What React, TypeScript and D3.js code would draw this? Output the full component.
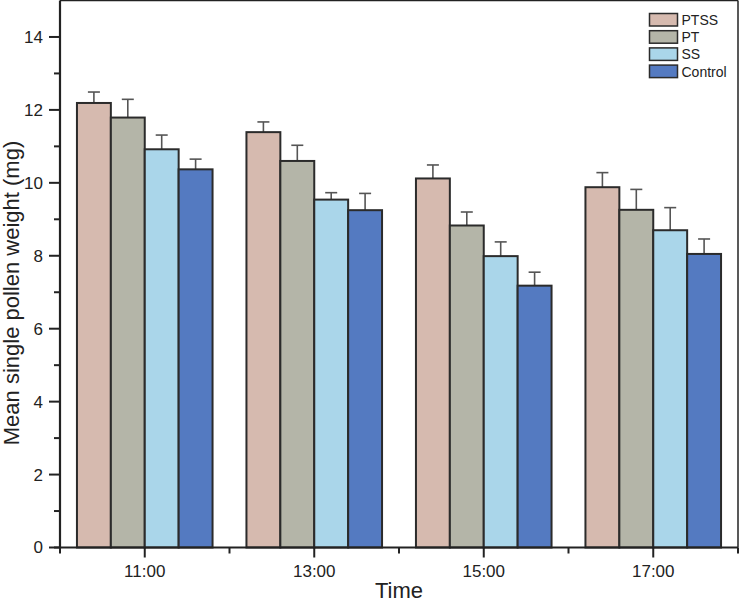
import React from "react";
import * as d3 from "d3";

const hours = [11, 13, 15, 17];
const hourLabels = ["11:00", "13:00", "15:00", "17:00"];
const seriesNames = ["PTSS", "PT", "SS", "Control"];
const seriesColors = ["#d6baaf", "#b4b5a8", "#aad6ea", "#547ac1"];
const ptssMean = [12.19, 11.39, 10.12, 9.88];
const ptssErr = [0.3, 0.28, 0.37, 0.4];
const ptMean = [11.79, 10.6, 8.83, 9.26];
const ptErr = [0.5, 0.43, 0.37, 0.56];
const ssMean = [10.92, 9.54, 7.99, 8.7];
const ssErr = [0.39, 0.19, 0.39, 0.62];
const controlMean = [10.37, 9.25, 7.18, 8.05];
const controlErr = [0.28, 0.46, 0.37, 0.41];
const yMajorTicks = [0, 2, 4, 6, 8, 10, 12, 14];
const yMinorTicks = [1, 3, 5, 7, 9, 11, 13];
const xMinorTicks = [10, 12, 14, 16, 18];

const means = [ptssMean, ptMean, ssMean, controlMean];
const errs = [ptssErr, ptErr, ssErr, controlErr];

export default function App() {
  const W = 740, H = 603;
  const left = 60, right = 738, top = 0.5, bottom = 547.5;
  const x = d3.scaleLinear().domain([10, 18]).range([left, right]);
  const y = d3.scaleLinear().domain([0, 15]).range([bottom, top]);
  const groupHalf = x(10.8) - x(10);
  const inner = d3.scaleBand<string>().domain(seriesNames).range([-groupHalf, groupHalf]).padding(0);
  const bw = inner.bandwidth();
  const font = "Liberation Sans, Arial, Helvetica, sans-serif";
  const capW = 6;

  return (
    <svg width={W} height={H} style={{ position: "absolute", left: 0, top: 0, background: "#fff" }} fontFamily={font}>
      <rect x={0} y={0} width={W} height={H} fill="#fff" />
      {seriesNames.map((s, si) => (
        <g key={s}>
          {hours.map((h, hi) => {
            const bx = x(h) + (inner(s) as number);
            const v = means[si][hi];
            const e = errs[si][hi];
            const cx = bx + bw / 2;
            return (
              <g key={h}>
                <line x1={cx} x2={cx} y1={y(v)} y2={y(v + e)} stroke="#555" strokeWidth={1.6} />
                <line x1={cx - capW} x2={cx + capW} y1={y(v + e)} y2={y(v + e)} stroke="#555" strokeWidth={1.6} />
                <rect x={bx} y={y(v)} width={bw} height={y(0) - y(v)} fill={seriesColors[si]} stroke="#2b2b2b" strokeWidth={2} />
              </g>
            );
          })}
        </g>
      ))}
      <line x1={left} x2={right} y1={top} y2={top} stroke="#222" strokeWidth={1.5} />
      <line x1={right} x2={right} y1={top} y2={bottom} stroke="#222" strokeWidth={1.5} />
      <line x1={left} x2={left} y1={top} y2={bottom + 1} stroke="#222" strokeWidth={2.2} />
      <line x1={left - 6} x2={right} y1={bottom} y2={bottom} stroke="#222" strokeWidth={2.2} />
      {yMajorTicks.map((t) => (
        <g key={"ym" + t}>
          <line x1={left - 11} x2={left} y1={y(t)} y2={y(t)} stroke="#222" strokeWidth={2} />
          <text x={43} y={y(t)} dy="0.35em" textAnchor="end" fontSize={17} fill="#222">{t}</text>
        </g>
      ))}
      {yMinorTicks.map((t) => (
        <line key={"yn" + t} x1={left - 6} x2={left} y1={y(t)} y2={y(t)} stroke="#222" strokeWidth={2} />
      ))}
      {hours.map((h, i) => (
        <g key={"xm" + h}>
          <line x1={x(h)} x2={x(h)} y1={bottom} y2={bottom + 10} stroke="#222" strokeWidth={2} />
          <text x={x(h)} y={576.5} textAnchor="middle" fontSize={17} fill="#222">{hourLabels[i]}</text>
        </g>
      ))}
      {xMinorTicks.map((h) => (
        <line key={"xn" + h} x1={x(h)} x2={x(h)} y1={bottom} y2={bottom + 6} stroke="#222" strokeWidth={2} />
      ))}
      <text x={(left + right) / 2} y={598} textAnchor="middle" fontSize={22} fill="#222">Time</text>
      <text transform={`translate(18.5,293) rotate(-90)`} textAnchor="middle" fontSize={22} fill="#222">Mean single pollen weight (mg)</text>
      {seriesNames.map((s, i) => (
        <g key={"lg" + s} transform={`translate(649.5,${13.5 + i * 17.2})`}>
          <rect x={0} y={0} width={28} height={12.5} fill={seriesColors[i]} stroke="#2b2b2b" strokeWidth={1.5} />
          <text x={32} y={6.5} dy="0.35em" fontSize={14} fill="#222">{s}</text>
        </g>
      ))}
    </svg>
  );
}
